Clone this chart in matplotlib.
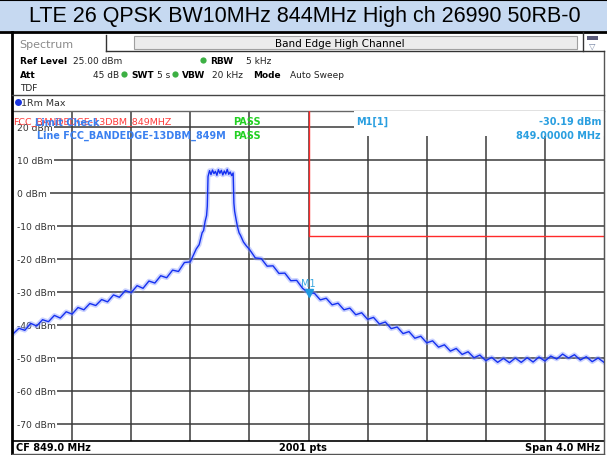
import matplotlib
matplotlib.use('Agg')
import matplotlib.pyplot as plt
from matplotlib.patches import Rectangle
from matplotlib.lines import Line2D

# Spectrum trace (MHz, dBm)
freq_mhz = [
    847.00, 847.04, 847.08, 847.12, 847.16, 847.20, 847.24, 847.28, 847.32, 847.36,
    847.40, 847.44, 847.48, 847.52, 847.56, 847.60, 847.64, 847.68, 847.72, 847.76,
    847.80, 847.84, 847.88, 847.92, 847.96, 848.00, 848.04, 848.08, 848.12, 848.16,
    848.20, 848.24, 848.26, 848.28, 848.29, 848.30, 848.31, 848.315, 848.32,
    848.33, 848.34, 848.35, 848.36, 848.37, 848.38, 848.39, 848.40, 848.41, 848.42,
    848.43, 848.44, 848.45, 848.46, 848.47, 848.48, 848.49, 848.495,
    848.50, 848.51, 848.52, 848.53, 848.54, 848.56, 848.58, 848.60,
    848.64, 848.68, 848.72, 848.76, 848.80, 848.84, 848.88, 848.92, 848.96,
    849.00, 849.04, 849.08, 849.12, 849.16, 849.20, 849.24, 849.28, 849.32, 849.36,
    849.40, 849.44, 849.48, 849.52, 849.56, 849.60, 849.64, 849.68, 849.72, 849.76,
    849.80, 849.84, 849.88, 849.92, 849.96, 850.00, 850.04, 850.08, 850.12, 850.16,
    850.20, 850.24, 850.28, 850.32, 850.36, 850.40, 850.44, 850.48, 850.52, 850.56,
    850.60, 850.64, 850.68, 850.72, 850.76, 850.80, 850.84, 850.88, 850.92, 850.96,
    851.00,
]
level_dbm = [
    -42.6, -40.9, -41.5, -39.4, -40.2, -38.3, -38.9, -37.0, -37.8, -35.9,
    -36.6, -34.6, -35.3, -33.4, -34.0, -32.2, -32.9, -30.8, -31.5, -29.5,
    -30.1, -28.0, -28.8, -26.6, -27.2, -25.0, -25.6, -23.3, -23.7, -21.0,
    -20.8, -16.9, -15.6, -12.0, -11.3, -8.6, -6.8, -4.0, 5.0,
    6.8, 5.6, 7.0, 5.9, 6.6, 5.4, 7.1, 6.0, 6.9, 5.5,
    6.7, 5.8, 7.2, 5.7, 6.4, 5.3, 6.1, -3.0,
    -5.5, -8.0, -10.3, -12.0, -12.8, -14.8, -16.0, -17.0,
    -19.6, -19.8, -22.1, -22.0, -24.3, -24.2, -26.5, -26.4, -28.8,
    -30.19, -30.3, -32.3, -31.8, -33.8, -33.3, -35.3, -34.8, -36.8, -36.2,
    -38.2, -37.6, -39.6, -39.0, -41.0, -40.5, -42.5, -41.9, -43.9, -43.3,
    -45.3, -44.7, -46.6, -45.9, -47.8, -47.0, -48.8, -48.0, -49.8, -49.0,
    -50.7, -49.7, -51.2, -50.0, -51.3, -49.9, -51.2, -49.8, -51.1, -49.6,
    -50.8, -49.3, -50.2, -48.7, -49.9, -48.9, -50.5, -49.5, -51.0, -49.9,
    -51.2,
]

# limit line FCC_BANDEDGE-13DBM_849MHZ
limit_freq = [849.0, 849.0, 851.0]
limit_level = [25.0, -13.0, -13.0]

marker_freq = 849.0
marker_level = -30.19

grid_levels = [20, 10, 0, -10, -20, -30, -40, -50, -60, -70]
grid_freqs = [847.4, 847.8, 848.2, 848.6, 849.0, 849.4, 849.8, 850.2, 850.6]

W, H = 607, 456
fig = plt.figure(figsize=(W / 100, H / 100), dpi=100)
fig.patch.set_facecolor('white')


def fx(x):
    return x / W


def fy(y):
    return 1 - y / H


def hline(y, x0, x1, color, lw):
    fig.add_artist(Line2D([fx(x0), fx(x1)], [fy(y), fy(y)], color=color, lw=lw))


def vline(x, y0, y1, color, lw):
    fig.add_artist(Line2D([fx(x), fx(x)], [fy(y0), fy(y1)], color=color, lw=lw))


# title bar
fig.add_artist(Rectangle((0, fy(32)), 1, fy(1) - fy(32), facecolor='#c6d9f1', edgecolor='none'))
hline(0.8, 0, W, 'black', 1.5)
hline(32.5, 0, W, 'black', 2.0)
fig.text(fx(305), fy(16.5), 'LTE 26 QPSK BW10MHz 844MHz High ch 26990 50RB-0',
         family='Liberation Sans', fontsize=15.5, ha='center', va='center', color='black')

# window frame and tab
vline(12.5, 33, H, 'black', 2.0)
vline(603.5, 52, H, '#555555', 1.0)
vline(106, 36, 52, '#333333', 1.0)
hline(52, 106, 603.5, '#333333', 1.0)
vline(583, 33, 52, '#333333', 1.0)
fig.text(fx(19), fy(44.5), 'Spectrum', fontsize=8, color='#8a8a8a', va='center')
fig.add_artist(Rectangle((fx(134), fy(50)), fx(577) - fx(134), fy(37) - fy(50),
                         facecolor='#ececec', edgecolor='#a0a0a0', lw=0.8))
fig.text(fx(340), fy(44), 'Band Edge High Channel', fontsize=7.5, color='black',
         ha='center', va='center')
fig.add_artist(Rectangle((fx(587), fy(41)), fx(11), fy(37) - fy(41),
                         facecolor='#5a5a7a', edgecolor='none'))
fig.text(fx(592.5), fy(46), '▽', fontsize=6, color='#7080a0', ha='center', va='center')

# settings block
bold = dict(fontsize=6.5, va='center', color='black', weight='bold')
norm = dict(fontsize=6.5, va='center', color='#222222')
fig.text(fx(20), fy(61), 'Ref Level', **bold)
fig.text(fx(73), fy(61), '25.00 dBm', **norm)
fig.text(fx(20), fy(75), 'Att', **bold)
fig.text(fx(119), fy(75), '45 dB', ha='right', **norm)
fig.text(fx(20), fy(88.5), 'TDF', **norm)
for gx, gy in [(203, 61), (124, 75), (175, 75)]:
    fig.add_artist(Line2D([fx(gx)], [fy(gy)], marker='o', ms=4.5, color='#3cb043', mec='none'))
fig.text(fx(210), fy(61), 'RBW', **bold)
fig.text(fx(246), fy(61), '5 kHz', **norm)
fig.text(fx(131), fy(75), 'SWT', **bold)
fig.text(fx(157), fy(75), '5 s', **norm)
fig.text(fx(182), fy(75), 'VBW', **bold)
fig.text(fx(212), fy(75), '20 kHz', **norm)
fig.text(fx(253), fy(75), 'Mode', **bold)
fig.text(fx(290), fy(75), 'Auto Sweep', **norm)

hline(96, 12.5, 603.5, '#444444', 1.0)
fig.add_artist(Line2D([fx(17.5)], [fy(103)], marker='o', ms=5, color='#1a35e0', mec='none'))
fig.text(fx(21), fy(103), '1Rm Max', fontsize=6.8, color='#333333', va='center')

# footer
hline(455, 12.5, 603.5, '#555555', 1.0)
fig.text(fx(16), fy(448.5), 'CF 849.0 MHz', fontsize=7, weight='bold', va='center')
fig.text(fx(303), fy(448.5), '2001 pts', fontsize=7, weight='bold', va='center', ha='center')
fig.text(fx(600), fy(448.5), 'Span 4.0 MHz', fontsize=7, weight='bold', va='center', ha='right')

# plot area
ax = fig.add_axes([fx(13), fy(442), fx(604) - fx(13), fy(111.5) - fy(442)])
ax.set_xlim(847.0, 851.0)
ax.set_ylim(-75, 25)
ax.set_xticks([])
ax.set_yticks([])
ax.spines['left'].set_visible(False)
ax.spines['right'].set_color('#555555')
ax.spines['top'].set_color('#666666')
ax.spines['top'].set_linewidth(1.0)
ax.spines['bottom'].set_color('black')
ax.spines['bottom'].set_linewidth(1.2)

ax.hlines(grid_levels, 847.25, 851.0, color='#3a3a3a', lw=1.1, zorder=1)
ax.vlines(grid_freqs, -75, 25, color='#3a3a3a', lw=1.1, zorder=1)
for lv in grid_levels:
    ax.text(847.03, lv, f'{lv} dBm', fontsize=6.6, color='#333333', va='center', ha='left',
            zorder=2, bbox=dict(facecolor='white', edgecolor='none', pad=0.3))

# marker info box covers the top of the grid on the right
ax.add_patch(Rectangle((849.31, 17.2), 1.69, 7.8, facecolor='white', edgecolor='none', zorder=3))

ax.plot(limit_freq, limit_level, color='#ff2a2a', lw=1.0, zorder=4)
ax.plot(freq_mhz, level_dbm, color='#8a9cff', lw=3.4, alpha=0.45, zorder=5)
ax.plot(freq_mhz, level_dbm, color='#1530f0', lw=1.0, zorder=6)

ax.plot([marker_freq], [marker_level], marker='v', ms=6, color='#1e9be0', zorder=7)
ax.text(marker_freq, marker_level + 1.4, 'M1', fontsize=7, color='#3aa8e0',
        ha='center', va='bottom', zorder=7)

ax.text(847.0, 21.8, 'FCC_BANDEDGE-13DBM_849MHZ', fontsize=6.8, color='#ff3b3b',
        va='center', ha='left', zorder=8)
ax.text(847.15, 21.6, 'Limit Check', fontsize=7, color='#3a80f0', weight='bold',
        va='center', ha='left', zorder=8)
ax.text(847.16, 17.7, 'Line FCC_BANDEDGE-13DBM_849M', fontsize=6.9, color='#3a80f0',
        weight='bold', va='center', ha='left', zorder=8)
ax.text(848.49, 21.8, 'PASS', fontsize=7, color='#22d022', weight='bold',
        va='center', ha='left', zorder=8)
ax.text(848.49, 17.7, 'PASS', fontsize=7, color='#22d022', weight='bold',
        va='center', ha='left', zorder=8)
ax.text(849.32, 21.8, 'M1[1]', fontsize=7, color='#2a9fe0', weight='bold',
        va='center', ha='left', zorder=8)
ax.text(850.98, 21.8, '-30.19 dBm', fontsize=7, color='#2a9fe0', weight='bold',
        va='center', ha='right', zorder=8)
ax.text(850.98, 17.7, '849.00000 MHz', fontsize=7, color='#2a9fe0', weight='bold',
        va='center', ha='right', zorder=8)

fig.savefig('out.png', dpi=100)
